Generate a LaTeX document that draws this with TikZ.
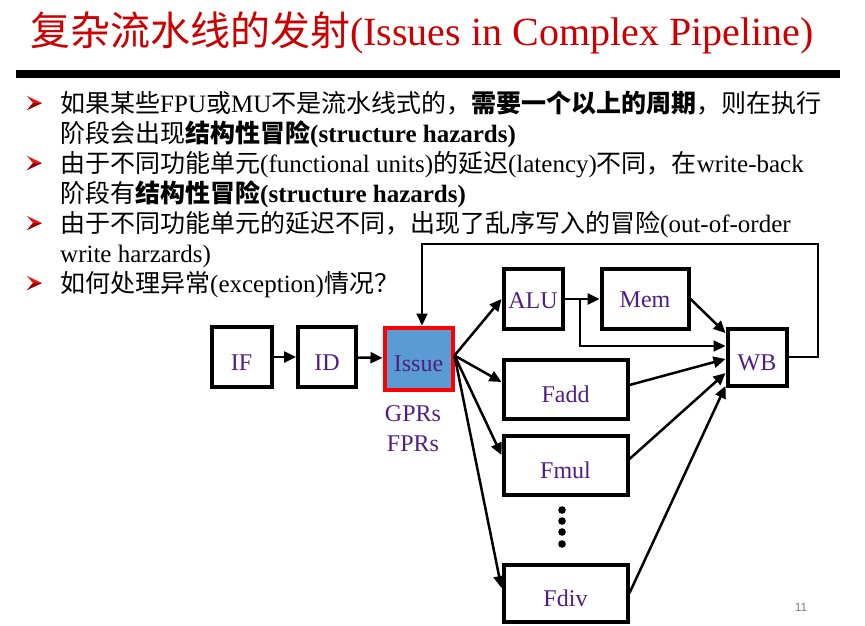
\documentclass[tikz,border=0pt]{standalone}
\usepackage{fontspec}
\setmainfont{Liberation Serif}
\setsansfont{Liberation Sans}
\newfontfamily\cjkfont{Noto Sans CJK SC}
\newcommand\zh[1]{{\cjkfont #1}}
\usetikzlibrary{arrows.meta,calc}
\definecolor{titlered}{RGB}{204,0,0}
\definecolor{boxtext}{RGB}{80,30,130}
\definecolor{issueblue}{RGB}{91,155,213}
\definecolor{bulletred}{RGB}{235,20,20}
\definecolor{bulletdark}{RGB}{150,0,0}
\begin{document}
\begin{tikzpicture}[x=1pt,y=-1pt,
  txt/.style={anchor=base west, inner sep=0pt, font=\fontsize{25}{30}\selectfont},
  box/.style={draw=black, line width=4pt, inner sep=0pt, text=boxtext, fill=white, font=\fontsize{24}{28}\selectfont, text height=26pt, text depth=0pt},
  arr/.style={draw=black, line width=2.5pt, -{Triangle[length=12pt,width=11pt]}},
  thinarr/.style={draw=black, line width=2pt, -{Triangle[length=12pt,width=11pt]}},
  lbl/.style={inner sep=0pt, anchor=base, text=boxtext, font=\fontsize{24}{28}\selectfont}]
\useasboundingbox (0,0) rectangle (865,625);
% title
\node[anchor=base west, inner sep=0pt, text=titlered, font=\fontsize{40}{48}\selectfont] (title) at (30,45) {\zh{复杂流水线的发射}(Issues in Complex Pipeline)};
\fill[black] (16,70) rectangle (840,78);
% bullets
\foreach \y in {103,163,223,283} {
  \fill[bulletred] (27,\y-7) -- (42,\y) -- (27,\y+7) -- (33,\y) -- cycle;
  \fill[bulletdark] (33,\y) -- (42,\y) -- (27,\y+7) -- cycle;
}
\node[txt] (l1) at (60,112) {\zh{如果某些}FPU\zh{或}MU\zh{不是流水线式的，}{\bfseries\zh{需要一个以上的周期}}\zh{，则在执行}};
\node[txt] (l2) at (60,142) {\zh{阶段会出现}\textbf{\zh{结构性冒险}(structure hazards)}};
\node[txt] (l3) at (60,172) {\zh{由于不同功能单元}(functional units)\zh{的延迟}(latency)\zh{不同，在}write-back};
\node[txt] (l4) at (60,202) {\zh{阶段有}\textbf{\zh{结构性冒险}(structure hazards)}};
\node[txt] (l5) at (60,232) {\zh{由于不同功能单元的延迟不同，出现了乱序写入的冒险}(out-of-order};
\node[txt] (l6) at (60,262) {write harzards)};
\node[txt] (l7) at (60,292) {\zh{如何处理异常}(exception)\zh{情况？}};
% boxes
\node[box, minimum width=60pt, minimum height=60pt] (IF) at (241.5,357) {IF};
\node[box, minimum width=58pt, minimum height=60pt] (ID) at (327,357) {ID};
\node[box, draw=red, fill=issueblue, minimum width=68pt, minimum height=62pt] (Issue) at (418.5,358.5) {Issue};
\node[box, text height=19pt, minimum width=59pt, minimum height=60pt] (ALU) at (533,299) {ALU};
\node[box, text height=16pt, minimum width=87pt, minimum height=60pt] (Mem) at (645,299) {Mem};
\node[box, minimum width=59pt, minimum height=57pt] (WB) at (757,357) {WB};
\node[box, minimum width=124pt, minimum height=59pt] (Fadd) at (565.5,389) {Fadd};
\node[box, minimum width=124pt, minimum height=59pt] (Fmul) at (565.5,465) {Fmul};
\node[box, minimum width=124pt, minimum height=57pt] (Fdiv) at (565.5,593) {Fdiv};
\node[lbl] (gpr) at (413,421) {GPRs};
\node[lbl] (fpr) at (413,451) {FPRs};
% dots
\foreach \y in {510,521,532,544} { \fill (562,\y) circle (3.8pt); }
% connectors
\draw[arr] (IF) -- (ID);
\draw[arr] (ID) -- (Issue);
\draw[arr] ([yshift=3pt]Issue.east) -- (ALU.west);
\draw[arr] ([yshift=3pt]Issue.east) -- ([yshift=7pt]Fadd.west);
\draw[arr] ([yshift=3pt]Issue.east) -- ([yshift=10pt]Fmul.west);
\draw[arr] ([yshift=3pt]Issue.east) -- ([yshift=5pt]Fdiv.west);
\draw[arr] (ALU.east) -- (Mem.west);
\coordinate (br) at (580,299);
\draw[thinarr] (br) |- ([yshift=11pt]WB.west);
\draw[arr] (Mem.east) -- ([yshift=24pt]WB.west);
\draw[arr] ([yshift=4pt]Fadd.east) -- ([yshift=-2pt]WB.west);
\draw[arr] ([yshift=6pt]Fmul.east) -- ([yshift=-16pt]WB.west);
\draw[arr] (Fdiv.east) -- ([yshift=-29pt]WB.west);
\coordinate (fbtr) at (818,244);
\coordinate (fbtl) at (422,244);
\draw[thinarr] (WB.east) -| (fbtr) -- (fbtl) -- (fbtl |- Issue.north);
% page number
\node[text=gray, inner sep=0pt, font=\sffamily\fontsize{12}{14}\selectfont] (pg) at (801,607) {11};
\end{tikzpicture}
\end{document}
